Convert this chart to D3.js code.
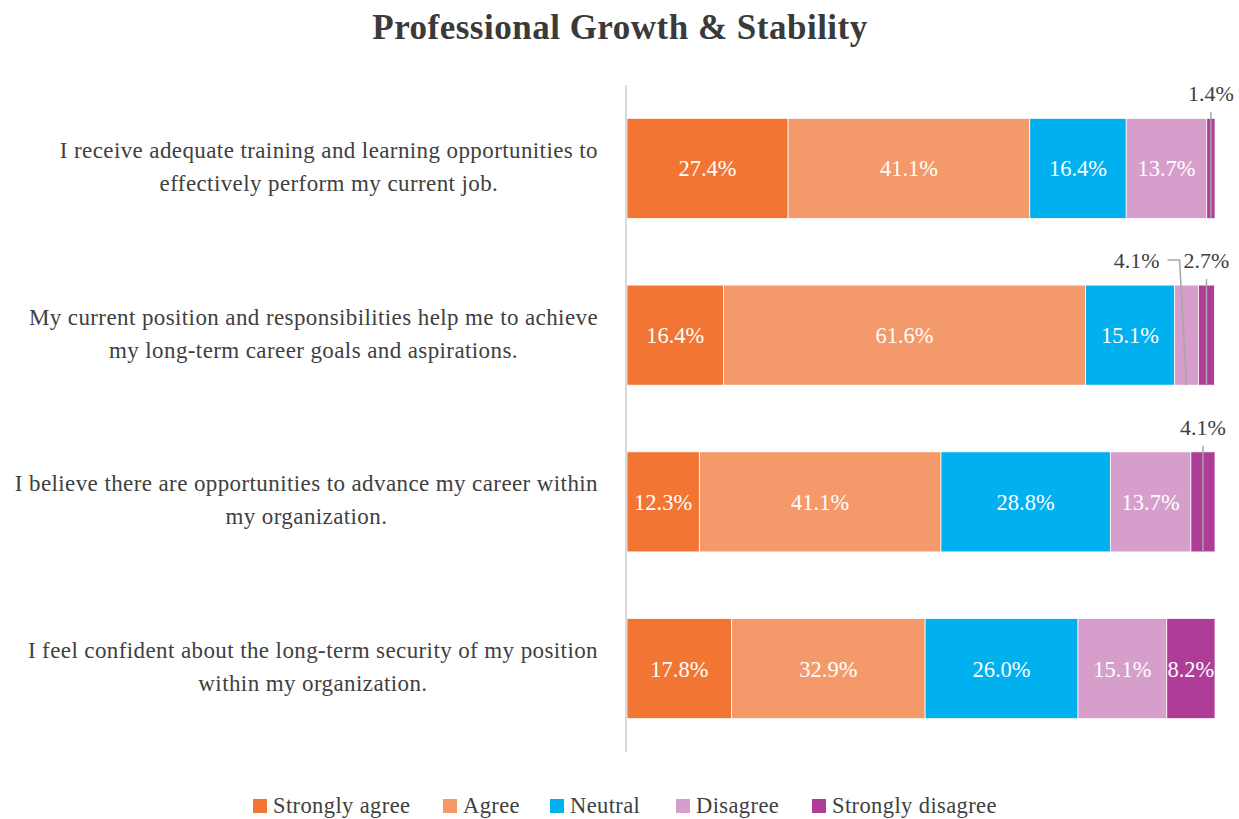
<!DOCTYPE html>
<html>
<head>
<meta charset="utf-8">
<script src="https://cdn.jsdelivr.net/npm/d3@7"></script>
<style>
  body { margin: 0; background: #fff; }
  svg { display: block; font-family: "Liberation Serif", "DejaVu Serif", serif; }
</style>
</head>
<body>
<svg id="chart" width="1239" height="819"></svg>
<script>
// survey statements (\n marks the line break used in the original)
const categories = [
  'I receive adequate training and learning opportunities to\neffectively perform my current job.',
  'My current position and responsibilities help me to achieve\nmy long-term career goals and aspirations.',
  'I believe there are opportunities to advance my career within\nmy organization.',
  'I feel confident about the long-term security of my position\nwithin my organization.'
];
const responses = ['Strongly agree', 'Agree', 'Neutral', 'Disagree', 'Strongly disagree'];
const stronglyAgree = [27.4, 16.4, 12.3, 17.8];
const agree = [41.1, 61.6, 41.1, 32.9];
const neutral = [16.4, 15.1, 28.8, 26.0];
const disagree = [13.7, 4.1, 13.7, 15.1];
const stronglyDisagree = [1.4, 2.7, 4.1, 8.2];
const colors = ['#F27533', '#F49A6A', '#00B0EF', '#D59ECB', '#AD3D97'];

const svg = d3.select('#chart');
const plotLeft = 627, plotRight = 1215, plotTop = 85, plotBottom = 752;

const series = [stronglyAgree, agree, neutral, disagree, stronglyDisagree];
const rows = categories.map((c, i) => {
  let acc = 0;
  return {
    name: c,
    segs: series.map((s, k) => {
      const seg = { key: responses[k], value: s[i], x0: acc, x1: acc + s[i], k: k };
      acc += s[i];
      return seg;
    })
  };
});

const x = d3.scaleLinear().domain([0, 100]).range([plotLeft, plotRight]);
const y = d3.scaleBand().domain(categories).range([plotTop, plotBottom]).paddingInner(0.4).paddingOuter(0.2);
const color = d3.scaleOrdinal().domain(responses).range(colors);

// title
svg.append('text')
  .attr('x', 620).attr('y', 39)
  .attr('text-anchor', 'middle')
  .attr('font-size', 35).attr('font-weight', 'bold')
  .attr('letter-spacing', 0.5)
  .attr('fill', '#3a3a3a')
  .text('Professional Growth & Stability');

// bars
const rowG = svg.selectAll('g.row').data(rows).enter().append('g').attr('class', 'row');

rowG.selectAll('rect')
  .data(d => d.segs.map(s => Object.assign({ row: d.name }, s)))
  .enter().append('rect')
  .attr('x', d => x(d.x0))
  .attr('y', d => y(d.row))
  .attr('width', d => x(d.x1) - x(d.x0))
  .attr('height', y.bandwidth())
  .attr('fill', d => color(d.key))
  .attr('stroke', '#fff')
  .attr('stroke-width', 0.75);

// labels inside wide segments
rowG.selectAll('text.inside')
  .data(d => d.segs.filter(s => x(s.x1) - x(s.x0) >= 35).map(s => Object.assign({ row: d.name }, s)))
  .enter().append('text')
  .attr('class', 'inside')
  .attr('x', d => (x(d.x0) + x(d.x1)) / 2)
  .attr('y', d => y(d.row) + y.bandwidth() / 2)
  .attr('dy', '0.35em')
  .attr('text-anchor', 'middle')
  .attr('font-size', 22.5)
  .attr('fill', '#fff')
  .text(d => d.value.toFixed(1) + '%');

// callouts for narrow segments
rows.forEach(r => {
  const small = r.segs.filter(s => x(s.x1) - x(s.x0) < 35);
  const barTop = y(r.name), barBottom = barTop + y.bandwidth();
  const ly = barTop - 25;
  let nextLeft = Infinity;
  for (let i = small.length - 1; i >= 0; i--) {
    const s = small[i];
    const mid = (x(s.x0) + x(s.x1)) / 2;
    const t = svg.append('text')
      .attr('y', ly).attr('dy', '0.35em')
      .attr('font-size', 22).attr('fill', '#404040')
      .text(s.value.toFixed(1) + '%');
    const w = t.node().getComputedTextLength();
    if (mid + w / 2 + 4 < nextLeft) {
      t.attr('x', mid).attr('text-anchor', 'middle');
      svg.append('line')
        .attr('x1', mid).attr('y1', barTop - 6)
        .attr('x2', mid).attr('y2', barBottom)
        .attr('stroke', '#a6a6a6').attr('stroke-width', 1.5);
      nextLeft = mid - w / 2;
    } else {
      const end = nextLeft - 24;
      t.attr('x', end).attr('text-anchor', 'end');
      svg.append('polyline')
        .attr('points', [[end + 8, ly], [end + 20, ly], [mid, barBottom]].map(p => p.join(',')).join(' '))
        .attr('fill', 'none')
        .attr('stroke', '#a6a6a6').attr('stroke-width', 1.5);
      nextLeft = end - w;
    }
  }
});

// vertical axis line
svg.append('line')
  .attr('x1', plotLeft - 1).attr('x2', plotLeft - 1)
  .attr('y1', plotTop).attr('y2', plotBottom)
  .attr('stroke', '#d9d9d9').attr('stroke-width', 2);

// category labels: lines centred within a block whose right edge is fixed
categories.forEach(c => {
  const lines = c.split('\n');
  const g = svg.append('g');
  const texts = lines.map((ln, i) => g.append('text')
    .attr('y', y(c) + y.bandwidth() / 2 - 2 + (i - (lines.length - 1) / 2) * 33)
    .attr('dy', '0.35em')
    .attr('font-size', 23)
    .attr('letter-spacing', 0.4)
    .attr('fill', '#404040')
    .attr('text-anchor', 'middle')
    .text(ln));
  const w = d3.max(texts, t => t.node().getComputedTextLength());
  texts.forEach(t => t.attr('x', 598 - w / 2));
});

// legend
const legendX = [253, 443, 550, 676, 812];
const legend = svg.selectAll('g.legend').data(responses).enter().append('g')
  .attr('class', 'legend')
  .attr('transform', (d, i) => `translate(${legendX[i]},806)`);
legend.append('rect')
  .attr('x', 0).attr('y', -7)
  .attr('width', 14).attr('height', 14)
  .attr('fill', d => color(d));
legend.append('text')
  .attr('x', 20).attr('y', -1).attr('dy', '0.35em')
  .attr('font-size', 22.5)
  .attr('letter-spacing', 0.4)
  .attr('fill', '#404040')
  .text(d => d);
</script>
</body>
</html>
